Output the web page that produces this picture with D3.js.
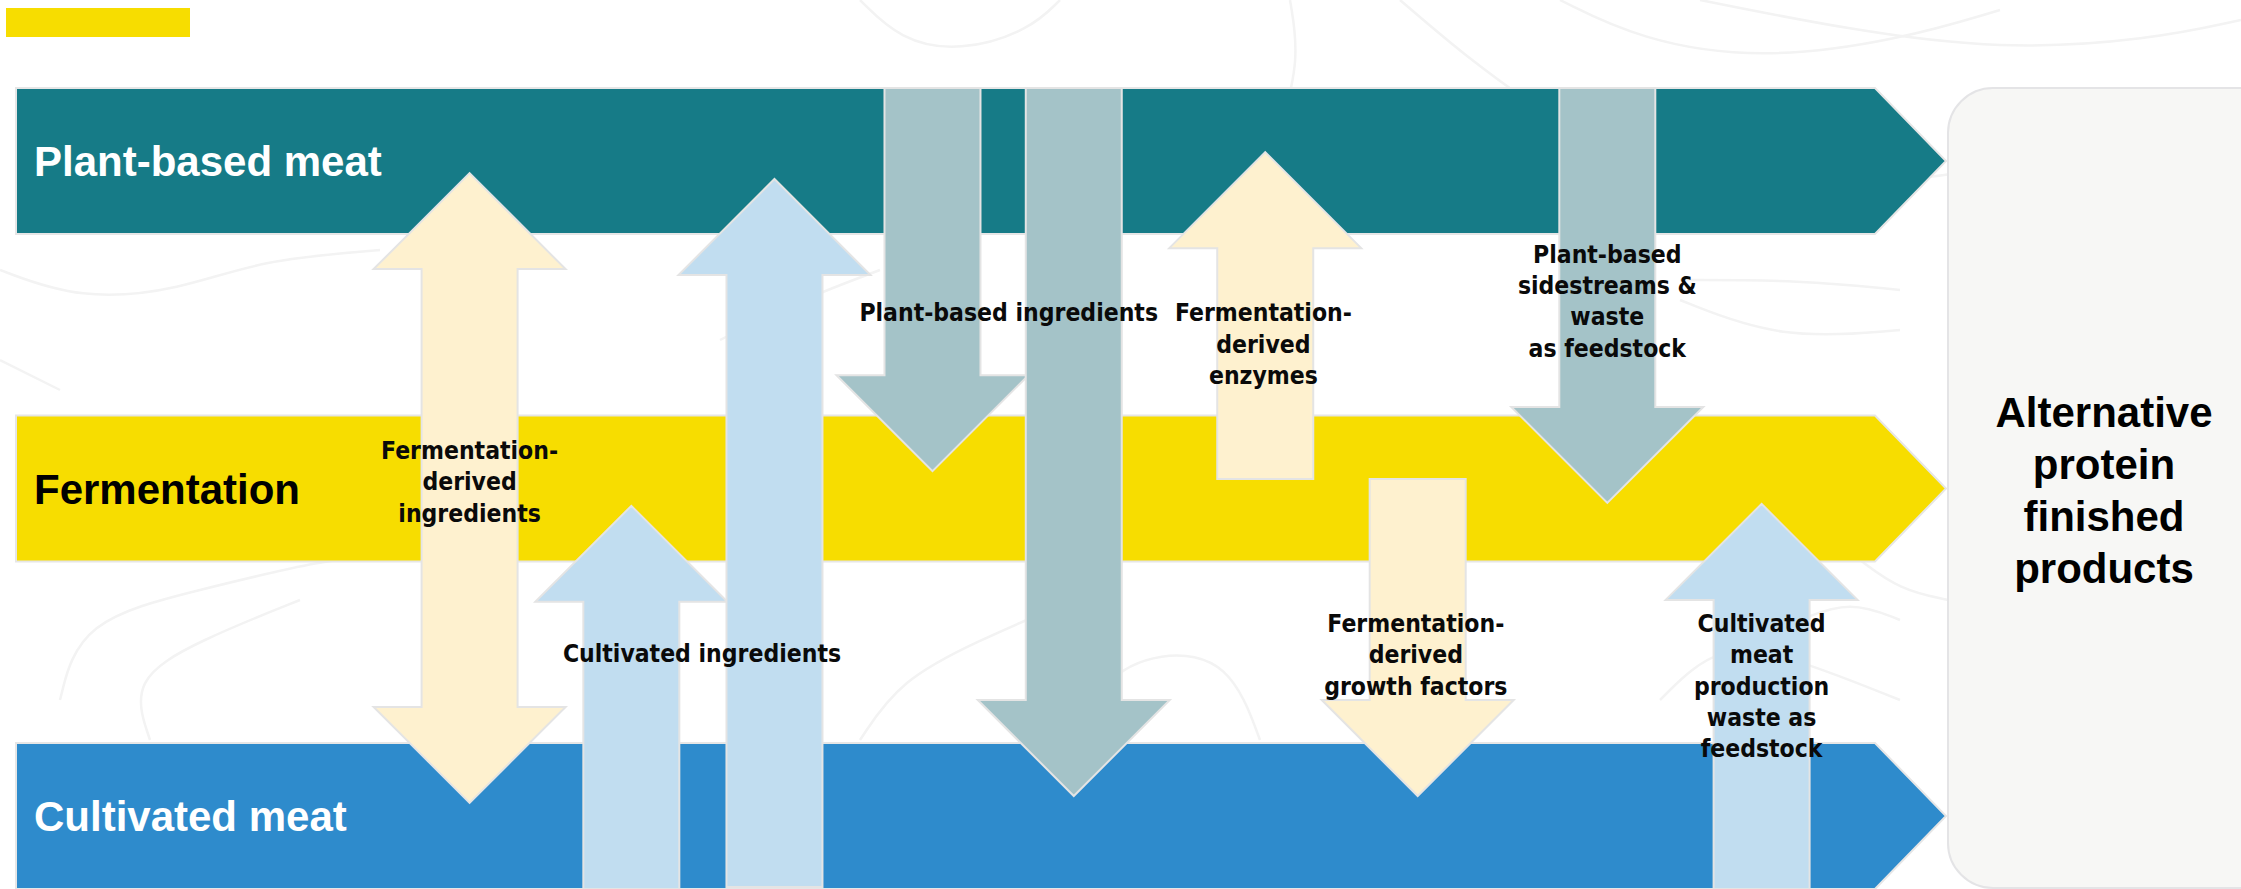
<!DOCTYPE html>
<html>
<head>
<meta charset="utf-8">
<script src="https://cdn.jsdelivr.net/npm/d3@7"></script>
<style>
  html, body { margin: 0; padding: 0; background: #ffffff; }
  svg { display: block; }
  .flow-label { font-family: "DejaVu Sans Condensed", "DejaVu Sans", sans-serif; font-stretch: condensed; font-weight: bold; }
  .big { font-family: "Liberation Sans", Arial, sans-serif; font-weight: bold; }
</style>
</head>
<body>
<svg id="chart" width="2241" height="889"></svg>
<script>
// Production stages, top to bottom
const stages = ["Plant-based meat", "Fermentation", "Cultivated meat"];

// Destination of every stage
const outcomeLines = ["Alternative", "protein", "finished", "products"];

// Exchange flows between stages.
// at: position along the pipeline (0-100); from / to: stage coordinate (0 = first stage centre)
const flowKinds = ["fermentation", "cultivated", "cultivated", "plant", "plant", "fermentation", "fermentation", "plant", "cultivated"];
const flowAt    = [24.4, 33.1, 40.8, 49.3, 56.9, 67.2, 75.4, 85.6, 93.9];
const flowFrom  = [0.037, 2.223, 2.217, -0.223, -0.223, 0.971, 0.971, -0.223, 2.223];
const flowTo    = [1.96, 1.053, 0.055, 0.947, 1.939, -0.027, 1.939, 1.044, 1.047];
const flowBoth  = [true, false, false, false, false, false, false, false, false];

// Flow labels: text lines, pipeline position and stage coordinate of the first line
const labelLines = [
  ["Fermentation-", "derived", "ingredients"],
  ["Cultivated ingredients"],
  ["Plant-based ingredients"],
  ["Fermentation-", "derived", "enzymes"],
  ["Plant-based", "sidestreams &", "waste", "as feedstock"],
  ["Fermentation-", "derived", "growth factors"],
  ["Cultivated", "meat", "production", "waste as", "feedstock"]
];
const labelAt = [24.4, 36.9, 53.4, 67.1, 85.6, 75.3, 93.9];
const labelY  = [0.91, 1.53, 0.49, 0.49, 0.311, 1.438, 1.438];

// ---- styles ----
const stageFill = { "Plant-based meat": "#167B87", "Fermentation": "#F7DD00", "Cultivated meat": "#2E8BCC" };
const stageText = { "Plant-based meat": "#ffffff", "Fermentation": "#000000", "Cultivated meat": "#ffffff" };
const kindFill = { plant: "#A4C3C8", fermentation: "#FEF1CF", cultivated: "#C1DDF0" };

const svg = d3.select("#chart");

// ---- scales ----
const x = d3.scaleLinear().domain([0, 100]).range([16, 1875]);
const y = d3.scaleLinear().domain([0, stages.length - 1]).range([161, 816]);
const bandHalf = 73;          // half height of a stage band
const tipLen = 71;            // chevron at the end of a band
const shaftHalf = 48, headHalf = 96, headLen = 96;

// ---- faint background contours ----
const contour = d3.line().curve(d3.curveBasis);
const contourSets = [
  [[860, 0], [900, 40], [960, 52], [1030, 30], [1060, 0]],
  [[1290, 0], [1300, 60], [1280, 130]],
  [[1400, 0], [1470, 60], [1540, 110], [1600, 150]],
  [[1560, 0], [1640, 40], [1760, 60], [1900, 40], [2000, 10]],
  [[1700, 0], [1850, 30], [2000, 50], [2150, 40], [2241, 20]],
  [[1900, 180], [2000, 170], [2150, 120], [2241, 90]],
  [[0, 270], [80, 300], [180, 290], [260, 260], [380, 250]],
  [[720, 340], [800, 300], [880, 270]],
  [[0, 360], [60, 390]],
  [[1680, 300], [1780, 340], [1900, 330]],
  [[1680, 280], [1800, 280], [1900, 290]],
  [[60, 700], [80, 620], [200, 590], [320, 560], [420, 550]],
  [[150, 740], [130, 680], [200, 640], [300, 600]],
  [[860, 740], [900, 680], [980, 640], [1050, 610]],
  [[1080, 740], [1100, 680], [1160, 650], [1230, 660], [1260, 740]],
  [[1800, 620], [1850, 600], [1900, 620]],
  [[1660, 700], [1720, 640], [1800, 660], [1900, 700]],
  [[1860, 560], [1900, 590], [1948, 600]]
];
svg.append("g").selectAll("path").data(contourSets).join("path")
  .attr("d", d => contour(d))
  .attr("fill", "none").attr("stroke", "#f3f3f3").attr("stroke-width", 2.5);

// ---- top-left accent ----
svg.append("rect").attr("x", 6).attr("y", 8).attr("width", 184).attr("height", 29).attr("fill", "#F7DD00");

// ---- outcome box ----
const boxX = x(100) + tipLen + 2;
svg.append("rect")
  .attr("x", boxX).attr("y", y(0) - bandHalf)
  .attr("width", 360).attr("height", y(2) + bandHalf - (y(0) - bandHalf) - 1)
  .attr("rx", 45).attr("ry", 45)
  .attr("fill", "#F7F7F5").attr("stroke", "#e4e4e6").attr("stroke-width", 2);

svg.append("text").attr("class", "big")
  .attr("text-anchor", "middle").attr("font-size", 42).attr("fill", "#000")
  .selectAll("tspan").data(outcomeLines).join("tspan")
  .attr("x", 2104)
  .attr("y", (d, i) => y(1) - 62 + i * 52)
  .text(d => d);

// ---- stage bands ----
const bandPath = s => {
  const i = stages.indexOf(s);
  const c = y(i), t = c - bandHalf, b = c + bandHalf;
  const p = d3.path();
  p.moveTo(x(0), t);
  p.lineTo(x(100), t);
  p.lineTo(x(100) + tipLen, c);
  p.lineTo(x(100), b);
  p.lineTo(x(0), b);
  p.closePath();
  return p.toString();
};
const bands = svg.append("g").selectAll("g").data(stages).join("g");
bands.append("path")
  .attr("d", bandPath)
  .attr("fill", d => stageFill[d])
  .attr("stroke", "#e6e6e6").attr("stroke-width", 2);
bands.append("text").attr("class", "big")
  .attr("x", x(0) + 18)
  .attr("y", (d, i) => y(i) + 15)
  .attr("font-size", 42)
  .attr("fill", d => stageText[d])
  .text(d => d);

// ---- flow arrows ----
const flows = flowKinds.map((k, i) => ({ kind: k, at: flowAt[i], from: flowFrom[i], to: flowTo[i], both: flowBoth[i] }));

function arrowPath(f) {
  const cx = x(f.at), y0 = y(f.from), y1 = y(f.to);
  const dir = Math.sign(y1 - y0);
  const hb = y1 - dir * headLen;
  const p = d3.path();
  if (f.both) {
    const ha = y0 + dir * headLen;
    p.moveTo(cx, y0);
    p.lineTo(cx + headHalf, ha);
    p.lineTo(cx + shaftHalf, ha);
    p.lineTo(cx + shaftHalf, hb);
    p.lineTo(cx + headHalf, hb);
    p.lineTo(cx, y1);
    p.lineTo(cx - headHalf, hb);
    p.lineTo(cx - shaftHalf, hb);
    p.lineTo(cx - shaftHalf, ha);
    p.lineTo(cx - headHalf, ha);
  } else {
    p.moveTo(cx - shaftHalf, y0);
    p.lineTo(cx - shaftHalf, hb);
    p.lineTo(cx - headHalf, hb);
    p.lineTo(cx, y1);
    p.lineTo(cx + headHalf, hb);
    p.lineTo(cx + shaftHalf, hb);
    p.lineTo(cx + shaftHalf, y0);
  }
  p.closePath();
  return p.toString();
}

svg.append("g").selectAll("path").data(flows).join("path")
  .attr("d", arrowPath)
  .attr("fill", d => kindFill[d.kind])
  .attr("stroke", "#e4e4e4").attr("stroke-width", 2)
  .attr("stroke-linejoin", "miter");

// ---- flow labels ----
const labels = labelLines.map((lines, i) => ({ lines, at: labelAt[i], y: labelY[i] }));
svg.append("g").selectAll("text").data(labels).join("text")
  .attr("class", "flow-label")
  .attr("text-anchor", "middle")
  .attr("font-size", 24.5)
  .attr("fill", "#0a0a0a")
  .each(function (d) {
    d3.select(this).selectAll("tspan").data(d.lines).join("tspan")
      .attr("x", x(d.at))
      .attr("y", (t, j) => y(d.y) + j * 31.3)
      .text(t => t);
  });
</script>
</body>
</html>
